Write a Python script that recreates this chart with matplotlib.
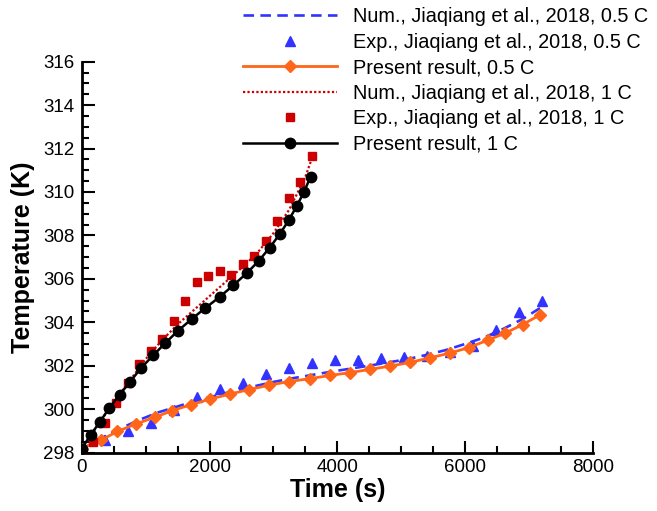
import numpy as np
import matplotlib.pyplot as plt
from matplotlib.ticker import MultipleLocator

plt.rcParams['font.family'] = ['Liberation Sans', 'DejaVu Sans']

# ---- data ----
# Num., Jiaqiang et al., 2018, 0.5 C
num05_t = [0, 300, 600, 900, 1200, 1500, 1800, 2100, 2400, 2700, 3000, 3300, 3600,
           3900, 4200, 4500, 4800, 5100, 5400, 5700, 6000, 6300, 6600, 6900, 7170]
num05_T = [298.15, 298.65, 299.1, 299.5, 299.85, 300.12, 300.4, 300.62, 300.85, 301.05,
           301.25, 301.42, 301.57, 301.72, 301.86, 302.0, 302.15, 302.3, 302.5, 302.72,
           303.0, 303.3, 303.7, 304.15, 304.65]

# Exp., Jiaqiang et al., 2018, 0.5 C
exp05_t = [360, 720, 1080, 1440, 1800, 2160, 2520, 2880, 3240, 3600,
           3960, 4320, 4680, 5040, 5400, 5760, 6120, 6480, 6840, 7200]
exp05_T = [298.59, 298.98, 299.36, 299.95, 300.54, 300.91, 301.22, 301.6, 301.9, 302.13,
           302.24, 302.24, 302.33, 302.4, 302.45, 302.62, 302.9, 303.63, 304.45, 304.98]

# Present result, 0.5 C
pr05_t = [0, 297, 559, 845, 1140, 1419, 1706, 2008, 2317, 2619, 2933, 3245, 3569,
          3887, 4200, 4513, 4826, 5140, 5448, 5761, 6055, 6351, 6627, 6898, 7170]
pr05_T = [298.18, 298.56, 298.97, 299.31, 299.62, 299.93, 300.2, 300.46, 300.69, 300.9,
          301.1, 301.27, 301.4, 301.55, 301.68, 301.83, 301.98, 302.15, 302.36, 302.58,
          302.83, 303.17, 303.5, 303.89, 304.34]

# Num., Jiaqiang et al., 2018, 1 C
num1_t = [0, 250, 500, 750, 1000, 1250, 1500, 1750, 2000, 2250, 2500, 2750, 3000,
          3250, 3500, 3590]
num1_T = [298.15, 299.25, 300.3, 301.3, 302.3, 303.15, 303.9, 304.55, 305.2, 305.85,
          306.5, 307.2, 308.1, 309.2, 310.7, 311.45]

# Exp., Jiaqiang et al., 2018, 1 C
exp1_t = [180, 360, 540, 720, 900, 1080, 1260, 1440, 1620, 1800,
          1980, 2160, 2340, 2520, 2700, 2880, 3060, 3240, 3420, 3600]
exp1_T = [298.5, 299.36, 300.26, 301.2, 302.06, 302.67, 303.25, 304.07, 304.98, 305.87,
          306.11, 306.35, 306.17, 306.67, 307.06, 307.73, 308.64, 309.72, 310.44, 311.66]

# Present result, 1 C
pr1_t = [0, 141, 286, 432, 593, 759, 935, 1123, 1311, 1508, 1722, 1937, 2165, 2375,
         2583, 2771, 2943, 3099, 3240, 3366, 3480, 3580]
pr1_T = [298.18, 298.81, 299.42, 300.05, 300.66, 301.27, 301.91, 302.49, 303.05, 303.61,
         304.15, 304.66, 305.18, 305.71, 306.26, 306.83, 307.44, 308.06, 308.70, 309.36,
         310.01, 310.70]

blue = '#3333ff'
orange = '#ff6619'
red = '#cc0000'

fig = plt.figure(figsize=(6.57, 5.11), dpi=100)
ax = fig.add_axes([81.7/657, 1 - 452.5/511, 511.3/657, 390.8/511])

ax.plot(exp05_t, exp05_T, ls='none', marker='^', ms=7, color=blue, zorder=2)
l1, = ax.plot(num05_t, num05_T, color=blue, lw=1.9, dashes=(4, 2.4), zorder=3,
              label='Num., Jiaqiang et al., 2018, 0.5 C')
l2, = ax.plot([], [], ls='none', marker='^', ms=7, color=blue,
              label='Exp., Jiaqiang et al., 2018, 0.5 C')
l3, = ax.plot(pr05_t, pr05_T, color=orange, lw=2, marker='D', ms=6, zorder=4,
              label='Present result, 0.5 C')
l4, = ax.plot(num1_t, num1_T, color=red, lw=1.6, dashes=(1, 1), zorder=3,
              label='Num., Jiaqiang et al., 2018, 1 C')
l5, = ax.plot(exp1_t, exp1_T, ls='none', marker='s', ms=6.2, color=red, zorder=5,
              label='Exp., Jiaqiang et al., 2018, 1 C')
l6, = ax.plot(pr1_t, pr1_T, color='black', lw=1.8, marker='o', ms=7.5, zorder=6,
              label='Present result, 1 C')

ax.set_xlim(0, 8000)
ax.set_ylim(298, 316)
ax.xaxis.set_major_locator(MultipleLocator(2000))
ax.xaxis.set_minor_locator(MultipleLocator(500))
ax.yaxis.set_major_locator(MultipleLocator(2))
ax.yaxis.set_minor_locator(MultipleLocator(0.5))
ax.tick_params(which='both', direction='in', width=1.5, labelsize=13.5)
ax.tick_params(which='major', length=9, pad=5)
ax.tick_params(which='minor', length=5)
ax.spines['top'].set_visible(False)
ax.spines['right'].set_visible(False)
ax.spines['left'].set_linewidth(2)
ax.spines['bottom'].set_linewidth(2)
for s in ('left', 'bottom'):
    ax.spines[s].set_capstyle('projecting')

ax.set_xlabel('Time (s)', fontsize=18, fontweight='bold', labelpad=1)
ax.set_ylabel('Temperature (K)', fontsize=18, fontweight='bold', labelpad=6)

fig.legend(handles=[l1, l2, l3, l4, l5, l6], loc='upper left',
           bbox_to_anchor=(243/657, 1 - 7/511), bbox_transform=fig.transFigure,
           frameon=False, fontsize=14.3, handlelength=4.73, handletextpad=0.8,
           labelspacing=0.33, borderpad=0, borderaxespad=0, numpoints=1)

fig.savefig('out.png', dpi=100)
